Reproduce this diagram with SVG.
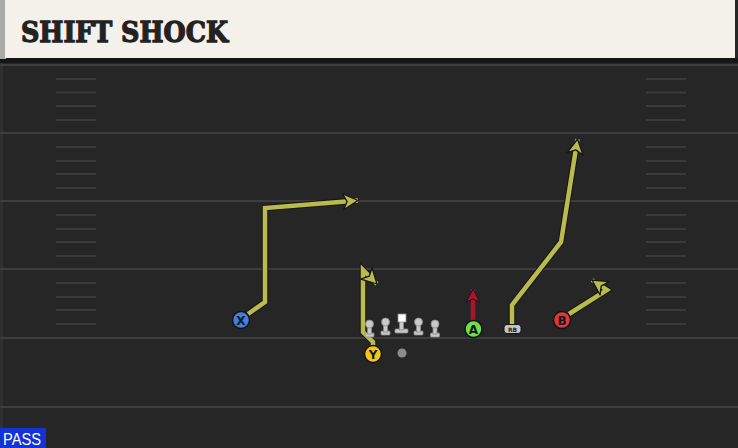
<svg xmlns="http://www.w3.org/2000/svg" width="738" height="448" viewBox="0 0 738 448">
  <style>
    .yard { stroke: #3d3d3d; stroke-width: 2; }
    .hash { stroke: #3a3a3a; stroke-width: 2; }
    .route-bg { fill: none; stroke: #161616; stroke-width: 6.5; stroke-linejoin: miter; stroke-linecap: butt; }
    .route { fill: none; stroke: #b9bb4c; stroke-width: 4.5; stroke-linejoin: miter; }
    .block { fill: none; stroke: #a8162e; stroke-width: 4.5; }
    .skill { stroke: #141414; stroke-width: 1.5; }
    .lbl { font-family: "DejaVu Sans", "Liberation Sans", sans-serif; font-weight: bold; font-size: 12px; fill: #141414; text-anchor: middle; }
    .ol { fill: #c9c9c9; stroke: #8a8a8a; stroke-width: 0.8; }
  </style>
  <defs>
    <marker id="arrY" markerUnits="userSpaceOnUse" markerWidth="30" markerHeight="30" refX="10" refY="0" viewBox="-15 -15 30 30" orient="auto" overflow="visible">
      <path d="M-5,-8 L10,0 L-5,8 L-1,0 Z" fill="#b9bb4c" stroke="#161616" stroke-width="1.3" stroke-linejoin="round"/>
    </marker>
    <marker id="arrR" markerUnits="userSpaceOnUse" markerWidth="30" markerHeight="30" refX="9" refY="0" viewBox="-15 -15 30 30" orient="auto" overflow="visible">
      <path d="M-4,-7 L9,0 L-4,7 L-1,0 Z" fill="#a8162e" stroke="#161616" stroke-width="1" stroke-linejoin="round"/>
    </marker>
  </defs>

  <!-- field -->
  <rect x="0" y="0" width="738" height="448" fill="#262626"/>
  <rect x="0" y="60" width="3" height="388" fill="#303030"/>
  <g id="yardlines">
    <line class="yard" x1="0" y1="65" x2="738" y2="65"/>
    <line class="yard" x1="0" y1="133" x2="738" y2="133"/>
    <line class="yard" x1="0" y1="201" x2="738" y2="201"/>
    <line class="yard" x1="0" y1="269" x2="738" y2="269"/>
    <line class="yard" x1="0" y1="338" x2="738" y2="338"/>
    <line class="yard" x1="0" y1="407" x2="738" y2="407"/>
  </g>
  <g id="hashes">
    <path class="hash" d="M56,79H96M56,92.5H96M56,106H96M56,120H96M56,147H96M56,161H96M56,174H96M56,188H96M56,215H96M56,229H96M56,242H96M56,256H96M56,283H96M56,297H96M56,310H96M56,324H96"/>
    <path class="hash" d="M646,79H686M646,92.5H686M646,106H686M646,120H686M646,147H686M646,161H686M646,174H686M646,188H686M646,215H686M646,229H686M646,242H686M646,256H686M646,283H686M646,297H686M646,310H686M646,324H686"/>
  </g>

  <!-- header -->
  <g id="header">
    <rect x="0" y="58" width="738" height="5" fill="#161616"/>
    <rect x="0" y="0" width="6" height="59" fill="#a9aaa6"/>
    <rect x="5" y="0" width="730" height="58" fill="#f3f1ea"/>
    <text x="21" y="42" font-family="'DejaVu Serif', 'Liberation Serif', serif" font-weight="bold" font-size="28" fill="#222222" stroke="#222222" stroke-width="1.3" textLength="207" lengthAdjust="spacingAndGlyphs">SHIFT SHOCK</text>
  </g>

  <!-- connectors -->
  <g id="connectors">
    <path class="route-bg" d="M248,314 L265,302 L265,208 L350,201"/>
    <path class="route" d="M248,314 L265,302 L265,208 L358,200.5" marker-end="url(#arrY)"/>
    <path class="route-bg" d="M373,346 L373,342 L363,332 L363,270 L370,277"/>
    <path class="route" d="M373,346 L373,342 L363,332 L363,270 L377,284" marker-end="url(#arrY)"/>
    <path class="route-bg" d="M512,325 L512,305 L561,242 L576,148"/>
    <path class="route" d="M512,325 L512,305 L561,242 L577.5,139" marker-end="url(#arrY)"/>
    <path class="route-bg" d="M569,314 L607,290 L598,284"/>
    <path class="route" d="M569,314 L607,290 L592,280" marker-end="url(#arrY)"/>
    <path class="block" d="M473,320 L473,289" marker-end="url(#arrR)"/>
  </g>

  <!-- offensive line -->
  <g id="lt">
    <rect class="ol" x="365" y="333" width="9" height="4" rx="1"/>
    <rect class="ol" x="367.5" y="325" width="4" height="9"/>
    <circle class="ol" cx="369.5" cy="324" r="4"/>
  </g>
  <g id="lg">
    <rect class="ol" x="381" y="331" width="9" height="4" rx="1"/>
    <rect class="ol" x="383.5" y="323" width="4" height="9"/>
    <circle class="ol" cx="385.5" cy="322" r="4"/>
  </g>
  <g id="c">
    <rect class="ol" x="395" y="329" width="13" height="4" rx="1"/>
    <rect class="ol" x="399.5" y="321" width="4" height="9"/>
    <rect x="398" y="314" width="8" height="8" fill="#ffffff" stroke="#8a8a8a" stroke-width="0.8"/>
  </g>
  <g id="rg">
    <rect class="ol" x="414" y="331" width="9" height="4" rx="1"/>
    <rect class="ol" x="416.5" y="323" width="4" height="9"/>
    <circle class="ol" cx="418.5" cy="322" r="4"/>
  </g>
  <g id="rt">
    <rect class="ol" x="430.5" y="333" width="9" height="4" rx="1"/>
    <rect class="ol" x="433" y="325" width="4" height="9"/>
    <circle class="ol" cx="435" cy="324" r="4"/>
  </g>
  <g id="ball">
    <circle cx="402" cy="353" r="4.5" fill="#8c8c8c"/>
  </g>

  <!-- skill players -->
  <g id="x">
    <circle class="skill" cx="241" cy="320" r="8.5" fill="#3f7fe0"/>
    <text class="lbl" x="241" y="324.5">X</text>
  </g>
  <g id="y">
    <circle class="skill" cx="373" cy="354" r="8.5" fill="#f3c51c"/>
    <text class="lbl" x="373" y="358.5">Y</text>
  </g>
  <g id="a">
    <circle class="skill" cx="473.5" cy="329" r="8.5" fill="#6fe04a"/>
    <text class="lbl" x="473.5" y="333.5">A</text>
  </g>
  <g id="rb">
    <rect x="504" y="324.5" width="17" height="9" rx="3" fill="#c4c4c4" stroke="#141414" stroke-width="1"/>
    <text x="512.5" y="332" font-family="'DejaVu Sans', 'Liberation Sans', sans-serif" font-weight="bold" font-size="6" fill="#222222" text-anchor="middle">RB</text>
  </g>
  <g id="b">
    <circle class="skill" cx="562" cy="320" r="8.5" fill="#e5353f"/>
    <text class="lbl" x="562" y="324.5">B</text>
  </g>

  <!-- pass tag -->
  <g id="pass">
    <rect x="0" y="428" width="46" height="20" fill="#1432d8"/>
    <text x="3" y="445" font-family="'Liberation Sans', 'DejaVu Sans', sans-serif" font-size="16" fill="#ffffff" textLength="38" lengthAdjust="spacingAndGlyphs">PASS</text>
  </g>
</svg>
